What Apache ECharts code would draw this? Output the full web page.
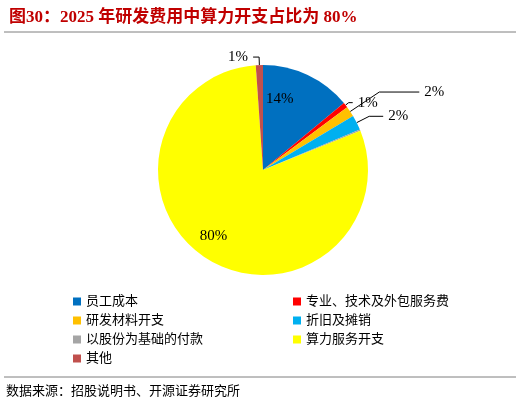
<!DOCTYPE html>
<html><head><meta charset="utf-8">
<script src="https://cdn.jsdelivr.net/npm/echarts@6/dist/echarts.min.js"></script>
<style>html,body{margin:0;padding:0;background:#fff}#c{width:520px;height:409px}</style>
</head><body><div id="c"></div>
<script>
const categories = ['员工成本','专业、技术及外包服务费','研发材料开支','折旧及摊销','以股份为基础的付款','算力服务开支','其他'];
const values = [14.0, 0.8, 1.6, 2.3, 0.2, 80.0, 1.1];
const labels = ['14%','1%','2%','2%','0%','80%','1%'];
const colors = ['#0070c0','#ff0000','#ffc000','#00b0f0','#a5a5a5','#ffff00','#c0504d'];
const leftItems = ['员工成本','研发材料开支','以股份为基础的付款','其他'];
const rightItems = ['专业、技术及外包服务费','折旧及摊销','算力服务开支'];
const cjk = '"Liberation Serif","Noto Sans CJK SC",serif';
const legendBase = {orient:'vertical', top:290, itemWidth:8, itemHeight:8, itemGap:6, icon:'rect',
  textStyle:{fontFamily:cjk, fontSize:13, color:'#000'}};
const chart = echarts.init(document.getElementById('c'));
chart.setOption({
  animation:false,
  color:colors,
  title:{text:'图30：2025 年研发费用中算力开支占比为 80%', left:4, top:4,
    textStyle:{fontFamily:cjk, fontSize:17, fontWeight:'bold', color:'#c00000'}},
  graphic:[
    {type:'line', shape:{x1:4,y1:32,x2:516,y2:32}, style:{stroke:'#7f7f7f',lineWidth:1}},
    {type:'line', shape:{x1:4,y1:377,x2:516,y2:377}, style:{stroke:'#7f7f7f',lineWidth:1}},
    {type:'text', left:6, top:385, style:{text:'数据来源：招股说明书、开源证券研究所', font:'13px '+cjk, fill:'#000'}}
  ],
  legend:[
    Object.assign({left:68, data:leftItems}, legendBase),
    Object.assign({left:288, data:rightItems}, legendBase)
  ],
  series:[{
    type:'pie', center:[263,170], radius:[0,105], startAngle:90, clockwise:true,
    avoidLabelOverlap:false, minShowLabelAngle:0,
    label:{show:true, position:'outside', fontFamily:'"Liberation Serif",serif', fontSize:15, color:'#000',
      formatter:p=>labels[p.dataIndex]},
    labelLine:{show:true, length:8, length2:6, lineStyle:{color:'#000',width:1}},
    data:categories.map((n,i)=>{
      const d={name:n, value:values[i]};
      if(i===0) { d.label={position:'inside', offset:[-7,-21]}; d.labelLine={show:false}; }
      if(i===5) { d.label={position:'inside', offset:[-20,19]}; d.labelLine={show:false}; }
      if(i===1) { d.labelLine={length:4,length2:4}; }
      if(i===2) { d.labelLine={length:35,length2:40}; }
      if(i===3) { d.labelLine={length:14,length2:14}; }
      if(i===4) { d.label={show:true}; d.labelLine={show:false,length:16,length2:0}; }
      return d;
    })
  }]
});
</script></body></html>
